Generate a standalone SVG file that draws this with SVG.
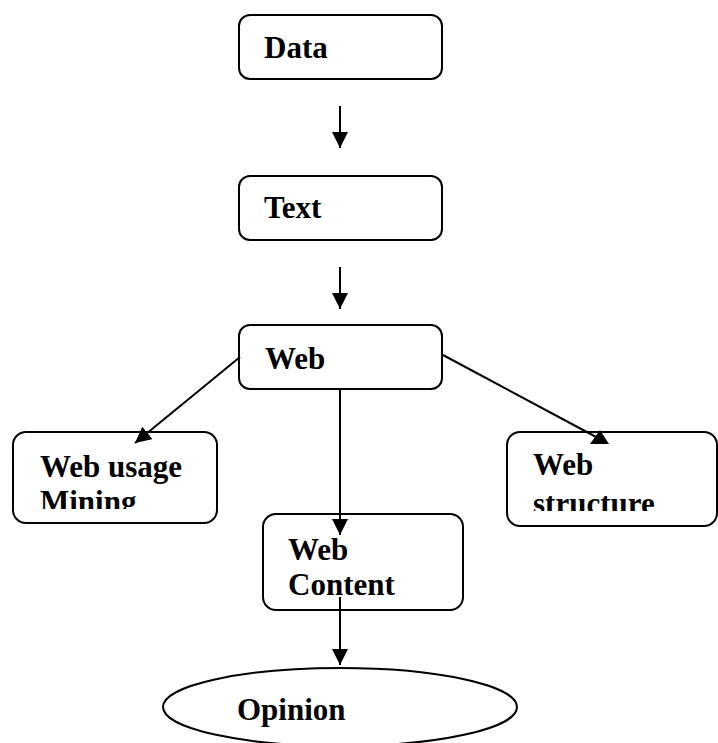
<svg xmlns="http://www.w3.org/2000/svg" width="718" height="743" viewBox="0 0 718 743">
  <style>
    .box { fill: #fff; stroke: #000; stroke-width: 2; }
    .lbl { font-family: "Liberation Serif", "Times New Roman", serif; font-weight: bold; font-size: 31px; fill: #000; }
    .edge { stroke: #000; stroke-width: 2; fill: none; }
    .head { fill: #000; stroke: none; }
  </style>
  <defs>
    <marker id="arrow" viewBox="0 0 16 16" refX="16" refY="8" markerWidth="16" markerHeight="16" markerUnits="userSpaceOnUse" orient="auto">
      <path d="M0,0 L16,8 L0,16 Z" fill="#000"/>
    </marker>
    <clipPath id="clipUsage"><rect x="13" y="432" width="204" height="77"/></clipPath>
    <clipPath id="clipStructure"><rect x="507" y="432" width="211" height="79"/></clipPath>
  </defs>

  <rect width="718" height="743" fill="#fff"/>

  <g id="node-data">
    <rect class="box" x="239" y="15" width="203" height="64" rx="11"/>
    <text class="lbl" x="264" y="58">Data</text>
  </g>

  <g id="node-text">
    <rect class="box" x="239" y="176" width="203" height="64" rx="11"/>
    <text class="lbl" x="264" y="218">Text</text>
  </g>

  <g id="node-web">
    <rect class="box" x="239" y="325" width="203" height="64" rx="11"/>
    <text class="lbl" x="265" y="369">Web</text>
  </g>

  <g id="node-web-usage">
    <rect class="box" x="13" y="432" width="204" height="91" rx="13"/>
    <g clip-path="url(#clipUsage)">
      <text class="lbl" x="40" y="477">Web usage</text>
      <text class="lbl" x="40" y="512">Mining</text>
    </g>
  </g>

  <g id="node-web-structure">
    <rect class="box" x="507" y="432" width="210" height="94" rx="13"/>
    <g clip-path="url(#clipStructure)">
      <text class="lbl" x="533" y="475">Web</text>
      <text class="lbl" x="533" y="514">structure</text>
    </g>
  </g>

  <g id="node-web-content">
    <rect class="box" x="263" y="514" width="200" height="96" rx="13"/>
    <text class="lbl" x="288" y="560">Web</text>
    <text class="lbl" x="288" y="595">Content</text>
  </g>

  <g id="node-opinion">
    <ellipse class="box" cx="340" cy="707" rx="177" ry="39"/>
    <text class="lbl" x="237" y="720">Opinion</text>
  </g>

  <g id="connectors">
    <line class="edge" x1="340" y1="106" x2="340" y2="148" marker-end="url(#arrow)"/>
    <line class="edge" x1="340" y1="267" x2="340" y2="309" marker-end="url(#arrow)"/>
    <line class="edge" x1="340" y1="389" x2="340" y2="535" marker-end="url(#arrow)"/>
    <line class="edge" x1="340" y1="597" x2="340" y2="665" marker-end="url(#arrow)"/>
    <line class="edge" x1="240" y1="357" x2="135" y2="443" marker-end="url(#arrow)"/>
    <line class="edge" x1="443" y1="355" x2="598" y2="438"/>
    <polygon class="head" points="600,430 590,444 609,444"/>
  </g>
</svg>
